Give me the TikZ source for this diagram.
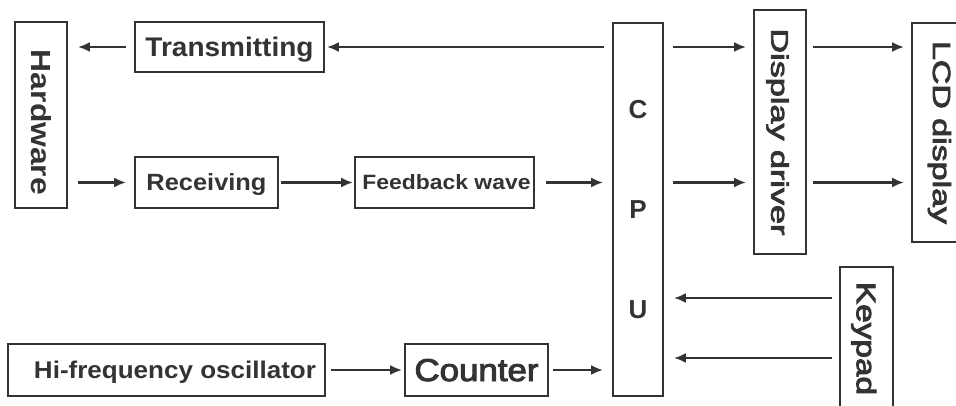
\documentclass[tikz,border=0pt]{standalone}
\usepackage{fontspec}
\setmainfont{Liberation Sans}
\newfontface\medfont{Liberation Sans}[FakeBold=3]
\usetikzlibrary{arrows.meta}
\definecolor{ink}{HTML}{333333}
\newcommand{\fitxt}[3]{\resizebox{#1pt}{#2pt}{\raisebox{0pt}[\height][0pt]{#3}}}
\newcommand{\vtxt}[3]{\rotatebox{-90}{\fitxt{#1}{#2}{#3}}}
\tikzset{
  box/.style={draw=ink, line width=1.8pt, inner sep=0pt, text=ink},
  arr/.style={draw=ink, line width=2.2pt, -{Latex[length=12pt,width=10pt]}}
}
\begin{document}
\begin{tikzpicture}[x=1pt,y=-1pt]
\useasboundingbox (0,0) rectangle (956,406);
\clip (0,0) rectangle (956,406);
% boxes
\node[box, minimum width=52pt, minimum height=186pt] (hw) at (41,115)
  {\vtxt{145}{20}{\bfseries Hardware}\rule{0pt}{15pt}};
\node[box, minimum width=189pt, minimum height=50pt] (trans) at (229.5,47)
  {\fitxt{168}{19.5}{\bfseries Transmitting}};
\node[box, minimum width=143pt, minimum height=51pt] (recv) at (206.5,182.5)
  {\fitxt{120}{17}{\bfseries Receiving}};
\node[box, minimum width=179pt, minimum height=51pt] (fb) at (444.5,182.5)
  {\hspace{4pt}\fitxt{168}{15}{\bfseries Feedback wave}};
\node[box, minimum width=50pt, minimum height=373pt, align=center,
  font=\fontsize{26pt}{100pt}\selectfont\bfseries] (cpu) at (638,209.5)
  {C\\P\\U};
\node[box, minimum width=52pt, minimum height=244pt] (dd) at (780,132)
  {\vtxt{207}{17.5}{\medfont Display driver}};
\node[box, minimum width=60pt, minimum height=219pt] (lcd) at (942,132.5)
  {\vtxt{183}{18}{\medfont LCD display}\hspace{10pt}};
\node[box, minimum width=53pt, minimum height=143pt] (key) at (866.5,338.5)
  {\vtxt{113}{19.5}{\medfont Keypad}};
\node[box, minimum width=317pt, minimum height=52pt] (osc) at (166.5,370)
  {\hspace{17pt}\fitxt{282}{17.5}{\bfseries Hi-frequency oscillator}};
\node[box, minimum width=143pt, minimum height=52pt] (cnt) at (476.5,370)
  {\fitxt{124}{22}{\medfont Counter}\hspace{9pt}};
% connectors
\draw[arr, shorten <=8pt, shorten >=10pt] (trans.west) -- (hw.east |- trans.west);
\draw[arr, shorten <=10pt, shorten >=8pt] (hw.east |- recv.west) -- (recv.west);
\draw[arr, shorten <=2pt, shorten >=1pt] (recv.east) -- (fb.west);
\draw[arr, shorten <=11pt, shorten >=9pt] (fb.east) -- (cpu.west |- fb.east);
\draw[arr, shorten <=8pt, shorten >=2pt] (cpu.west |- trans.east) -- (trans.east);
\draw[arr, shorten <=9pt, shorten >=7pt] (cpu.east |- trans.east) -- (dd.west |- trans.east);
\draw[arr, shorten <=9pt, shorten >=7pt] (cpu.east |- recv.east) -- (dd.west |- recv.east);
\draw[arr, shorten <=6pt, shorten >=7pt] (dd.east |- trans.east) -- (lcd.west |- trans.east);
\draw[arr, shorten <=6pt, shorten >=7pt] (dd.east |- recv.east) -- (lcd.west |- recv.east);
\coordinate (k1) at ([yshift=40.5pt]key.west);
\coordinate (k2) at ([yshift=-19.5pt]key.west);
\draw[arr, shorten <=7pt, shorten >=10pt] (k1) -- (cpu.east |- k1);
\draw[arr, shorten <=7pt, shorten >=10pt] (k2) -- (cpu.east |- k2);
\draw[arr, shorten <=5pt, shorten >=2pt] (osc.east) -- (cnt.west);
\draw[arr, shorten <=4pt, shorten >=9pt] (cnt.east) -- (cpu.west |- cnt.east);
\end{tikzpicture}
\end{document}
